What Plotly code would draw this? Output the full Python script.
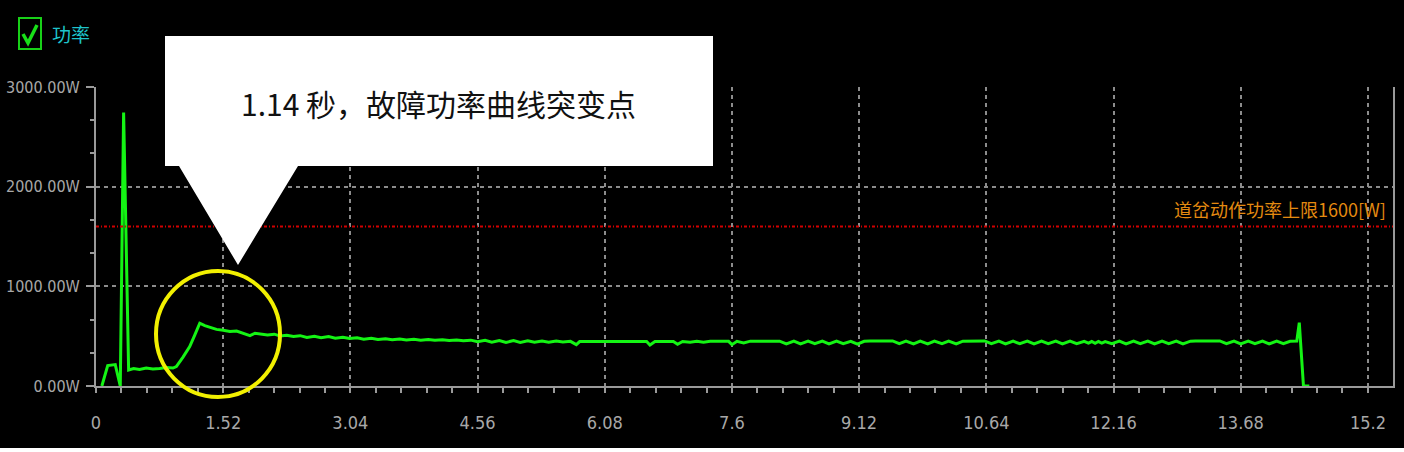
import plotly.graph_objects as go

# 道岔功率曲线数据 (秒, 瓦)
t_start = [0.07, 0.14, 0.23, 0.29, 0.33, 0.39, 0.45, 0.52, 0.60, 0.68,
           0.76, 0.84, 0.92, 0.96, 1.04, 1.12, 1.18, 1.24, 1.30, 1.38,
           1.44, 1.52, 1.60, 1.68, 1.76, 1.84, 1.90, 1.96, 2.05, 2.13,
           2.20, 2.28, 2.36]
w_start = [0, 205, 215, 0, 2745, 160, 175, 165, 180, 170,
           175, 185, 180, 195, 290, 395, 510, 630, 605, 585,
           568, 560, 548, 552, 532, 505, 530, 525, 512, 520,
           502, 510, 496]

t_settle = [2.44, 2.52, 2.61, 2.69, 2.78, 2.86, 2.95, 3.03, 3.12, 3.20,
            3.29, 3.37, 3.46, 3.54, 3.63, 3.71, 3.80, 3.88, 3.97, 4.05,
            4.14, 4.22, 4.31, 4.39, 4.48, 4.56, 4.65, 4.73, 4.82, 4.90,
            4.99, 5.07, 5.16, 5.24, 5.33, 5.41, 5.50, 5.58, 5.67, 5.74]
w_settle = [505, 488, 500, 484, 496, 480, 490, 476, 484, 470,
            478, 467, 474, 464, 471, 462, 468, 460, 466, 458,
            463, 456, 461, 454, 460, 444, 458, 440, 456, 438,
            455, 438, 454, 440, 452, 440, 452, 442, 448, 415]

t_mid = [5.78, 6.58, 6.62, 6.68, 6.90, 6.95, 7.01, 7.10, 7.18, 7.26,
         7.34, 7.56, 7.60, 7.66, 7.74, 7.82, 8.17]
w_mid = [446, 446, 412, 446, 446, 418, 446, 438, 448, 440,
         448, 448, 415, 448, 432, 450, 450]

t_end = [8.25, 8.34, 8.42, 8.51, 8.59, 8.68, 8.76, 8.85, 8.93, 9.02,
         9.10, 9.18, 9.25, 9.52, 9.60, 9.68, 9.77, 9.85, 9.94, 10.02,
         10.11, 10.19, 10.28, 10.36, 10.62, 10.70, 10.79, 10.87, 10.96, 11.04,
         11.13, 11.21, 11.30, 11.38, 11.47, 11.55, 11.64, 11.72, 11.81, 11.86,
         11.90, 11.94, 11.98, 12.02, 12.06, 12.14, 12.23, 12.31, 12.40, 12.48,
         12.57, 12.65, 12.74, 12.82, 12.91, 12.99, 13.08, 13.14, 13.43, 13.51,
         13.60, 13.68, 13.77, 13.85, 13.94, 14.02, 14.11, 14.19, 14.27, 14.35,
         14.38, 14.43, 14.50]
w_end = [422, 450, 422, 450, 424, 450, 422, 450, 424, 448,
         420, 448, 452, 452, 424, 450, 422, 450, 422, 450,
         424, 450, 422, 450, 452, 424, 450, 422, 450, 424,
         450, 422, 450, 424, 450, 422, 450, 424, 448, 430,
         446, 428, 446, 430, 446, 424, 450, 422, 450, 424,
         450, 422, 450, 424, 450, 422, 450, 452, 452, 424,
         450, 422, 450, 424, 450, 422, 450, 424, 448, 450,
         635, 0, 0]

time_s = t_start + t_settle + t_mid + t_end
power_w = w_start + w_settle + w_mid + w_end

x_ticks = [0, 1.52, 3.04, 4.56, 6.08, 7.6, 9.12, 10.64, 12.16, 13.68, 15.2]
x_labels = ["0", "1.52", "3.04", "4.56", "6.08", "7.6", "9.12", "10.64", "12.16", "13.68", "15.2"]
y_ticks = [0, 1000, 2000, 3000]
y_labels = ["0.00W", "1000.00W", "2000.00W", "3000.00W"]

limit_w = 1600
limit_text = "道岔动作功率上限1600[W]"
callout_text = "1.14 秒，故障功率曲线突变点"

# 画布与边距 (像素)
W, H = 1404, 452
L, R, T, B = 96, 11, 87, 66


def px(x, y):
    # 像素位置 -> paper 坐标
    return (x - L) / (W - L - R), (H - B - y) / (H - T - B)


grid = "#8c8c8c"
axis = "#9a9a9a"
font_family = "Liberation Sans Narrow, DejaVu Sans Condensed, sans-serif"
y_font = dict(family=font_family, size=16, color="#a8a8a8")
x_font = dict(family=font_family, size=18, color="#a8a8a8")

fig = go.Figure()
fig.add_trace(go.Scatter(x=time_s, y=power_w, mode="lines",
                         line=dict(color="#14f414", width=3), showlegend=False))

shapes = []
# 上限线
shapes.append(dict(type="line", xref="paper", yref="y", x0=0, x1=1, y0=limit_w, y1=limit_w,
                   line=dict(color="#d00000", width=2, dash="3px,2px,1px,2px")))

# 复选框
bx0, by0 = px(19, 18)
bx1, by1 = px(41, 49)
shapes.append(dict(type="rect", xref="paper", yref="paper", x0=bx0, y0=by0, x1=bx1, y1=by1,
                   line=dict(color="#18d018", width=2)))
c1 = px(23, 34)
c2 = px(28, 43)
c3 = px(37, 25)
shapes.append(dict(type="path", xref="paper", yref="paper",
                   path=f"M {c1[0]},{c1[1]} L {c2[0]},{c2[1]} L {c3[0]},{c3[1]}",
                   line=dict(color="#18e018", width=3.5)))

# 标注框
pts = [(165, 36), (713, 36), (713, 166), (298, 166), (238, 265), (179, 166), (165, 166)]
pp = [px(a, b) for a, b in pts]
path = "M " + " L ".join(f"{a},{b}" for a, b in pp) + " Z"
shapes.append(dict(type="path", xref="paper", yref="paper", path=path,
                   fillcolor="white", line=dict(color="white", width=0)))

# 黄色圆圈
e0 = px(156, 271)
e1 = px(280, 397)
shapes.append(dict(type="circle", xref="paper", yref="paper",
                   x0=e0[0], y0=e1[1], x1=e1[0], y1=e0[1],
                   line=dict(color="#f2f000", width=4)))

# 底部白边
s0 = px(-10, 448)
s1 = px(W + 10, H + 10)
shapes.append(dict(type="rect", xref="paper", yref="paper", x0=s0[0], y0=s1[1], x1=s1[0], y1=s0[1],
                   fillcolor="white", line=dict(width=0)))

ax_txt, ay_txt = px(438, 103)
lx, ly = px(50, 34)
annotations = [
    dict(xref="paper", yref="paper", x=ax_txt, y=ay_txt, xanchor="center", yanchor="middle",
         text=callout_text, showarrow=False,
         font=dict(family="Noto Sans CJK SC", size=30, color="#111111")),
    dict(xref="paper", yref="paper", x=lx, y=ly, xanchor="left", yanchor="middle",
         text="功率", showarrow=False,
         font=dict(family="Noto Sans CJK SC", size=19, color="#1ec4cc")),
    dict(xref="paper", yref="y", x=px(1388, 0)[0], y=limit_w, xanchor="right", yanchor="bottom",
         yshift=3, text=limit_text, showarrow=False,
         font=dict(family="Noto Sans CJK SC", size=18, color="#e48a10")),
]

fig.update_layout(
    width=W, height=H,
    margin=dict(l=L, r=R, t=T, b=B),
    paper_bgcolor="black", plot_bgcolor="black",
    shapes=shapes, annotations=annotations,
    showlegend=False,
)
fig.update_xaxes(
    range=[0, 15.5], tickvals=x_ticks, ticktext=x_labels, tickfont=x_font,
    automargin=False,
    showgrid=True, gridcolor=grid, griddash="4px,4px", gridwidth=1.5,
    showline=True, linecolor=axis, linewidth=2, zeroline=False,
    ticks="outside", ticklen=5, tickcolor=axis, tickwidth=2, ticklabelstandoff=14,
    minor=dict(dtick=0.304, tick0=0, ticks="outside", ticklen=5, tickcolor=axis, tickwidth=2, showgrid=False),
)
fig.update_yaxes(
    range=[0, 3000], tickvals=y_ticks, ticktext=y_labels, tickfont=y_font,
    automargin=False,
    showgrid=True, gridcolor=grid, griddash="4px,4px", gridwidth=1.5,
    showline=True, linecolor=axis, linewidth=2, mirror=True, zeroline=False,
    ticks="outside", ticklen=8, tickcolor=axis, tickwidth=2, ticklabelstandoff=3,
    minor=dict(dtick=1000 / 3, tick0=0, ticks="outside", ticklen=4, tickcolor=axis, tickwidth=2, showgrid=False),
)

fig.write_html("out.html", config={"displayModeBar": False},
               post_script="document.body.style.margin='0';document.body.style.padding='0';")
